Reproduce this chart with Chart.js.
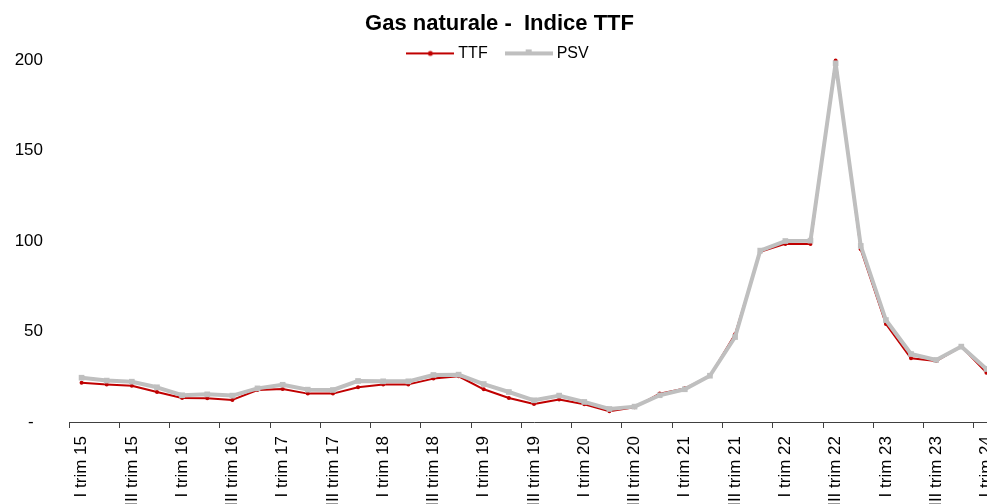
<!DOCTYPE html>
<html>
<head>
<meta charset="utf-8">
<script src="https://cdn.jsdelivr.net/npm/chart.js@4"></script>
<style>
    html, body { margin: 0; padding: 0; background: #fff; overflow: hidden; }
    #wrap { width: 987px; height: 504px; overflow: hidden; }
</style>
</head>
<body>
<div id="wrap">
    <canvas id="gasChart" width="1004" height="504"></canvas>
</div>
<script>
const categories = [
    "I trim 15", "II trim 15", "III trim 15", "IV trim 15",
    "I trim 16", "II trim 16", "III trim 16", "IV trim 16",
    "I trim 17", "II trim 17", "III trim 17", "IV trim 17",
    "I trim 18", "II trim 18", "III trim 18", "IV trim 18",
    "I trim 19", "II trim 19", "III trim 19", "IV trim 19",
    "I trim 20", "II trim 20", "III trim 20", "IV trim 20",
    "I trim 21", "II trim 21", "III trim 21", "IV trim 21",
    "I trim 22", "II trim 22", "III trim 22", "IV trim 22",
    "I trim 23", "II trim 23", "III trim 23", "IV trim 23",
    "I trim 24"
];

const ttf = [21.7, 20.8, 20.1, 16.6, 13.3, 13.1, 12.2, 17.7, 18.3, 15.7, 15.7, 19.2,
    20.8, 20.8, 24.0, 25.3, 18.1, 13.3, 10.0, 12.5, 9.8, 5.9, 8.1, 15.7,
    18.6, 25.5, 48.5, 94.2, 98.5, 98.5, 199.9, 95.5, 54.2, 35.2, 33.7, 41.7, 27.3];

const psv = [24.5, 22.9, 22.3, 19.2, 14.8, 15.3, 14.6, 18.6, 20.6, 17.9, 17.7, 22.7,
    22.5, 22.5, 26.0, 26.2, 21.0, 16.6, 12.0, 14.6, 11.1, 7.2, 8.5, 14.8,
    18.1, 25.6, 47.0, 94.8, 100.1, 100.3, 198.4, 97.4, 56.4, 37.6, 34.3, 41.7, 29.3];

const yTicks = [0, 50, 100, 150, 200];

const FONT = "'Liberation Sans', Arial, sans-serif";
const RED = "#C00000";
const GREY = "#BFBFBF";

// small line+marker pictures for the legend
function legendMark(color, lineW, shape) {
    const c = document.createElement("canvas");
    c.width = 48;
    c.height = 10;
    const g = c.getContext("2d");
    g.strokeStyle = color;
    g.lineWidth = lineW;
    g.beginPath();
    g.moveTo(0, 5);
    g.lineTo(48, 5);
    g.stroke();
    g.fillStyle = color;
    if (shape === "circle") {
        g.beginPath();
        g.arc(24, 5, 2.5, 0, Math.PI * 2);
        g.fill();
    } else {
        g.fillRect(21, 1, 6, 6);
    }
    return c;
}

const ttfMark = legendMark(RED, 2, "circle");
const psvMark = legendMark(GREY, 4, "rect");

const ctx = document.getElementById("gasChart").getContext("2d");

new Chart(ctx, {
    type: "line",
    data: {
        labels: categories,
        datasets: [
            {
                label: "TTF",
                data: ttf,
                borderColor: RED,
                backgroundColor: RED,
                borderWidth: 2,
                borderJoinStyle: "round",
                pointStyle: "circle",
                pointRadius: 2,
                pointBorderWidth: 0,
                tension: 0,
                clip: false,
                order: 2
            },
            {
                label: "PSV",
                data: psv,
                borderColor: GREY,
                backgroundColor: GREY,
                borderWidth: 4,
                borderJoinStyle: "round",
                pointStyle: "rect",
                pointRadius: 4,
                pointBorderWidth: 0,
                tension: 0,
                clip: false,
                order: 1
            }
        ]
    },
    options: {
        responsive: false,
        animation: false,
        layout: { padding: { left: 0, right: 5, top: 0, bottom: 0 } },
        plugins: {
            tooltip: { enabled: false },
            title: {
                display: true,
                text: "Gas naturale -  Indice TTF",
                color: "#000",
                font: { family: FONT, size: 22, weight: "bold" },
                padding: { top: 11, bottom: -13 }
            },
            legend: {
                display: true,
                position: "top",
                maxHeight: 36,
                labels: {
                    color: "#000",
                    font: { family: FONT, size: 16 },
                    usePointStyle: true,
                    pointStyleWidth: 40,
                    padding: 21,
                    generateLabels: function (chart) {
                        return [
                            { text: "TTF", pointStyle: ttfMark, datasetIndex: 0, hidden: !chart.isDatasetVisible(0), lineWidth: 0, fontColor: "#000" },
                            { text: "PSV", pointStyle: psvMark, datasetIndex: 1, hidden: !chart.isDatasetVisible(1), lineWidth: 0, fontColor: "#000" }
                        ];
                    }
                }
            }
        },
        scales: {
            x: {
                type: "category",
                offset: true,
                afterFit: function (scale) {
                    scale.height = 82;
                    scale.paddingLeft = 0;
                    scale.paddingRight = 0;
                },
                border: { display: true, color: "#404040", width: 1 },
                grid: {
                    offset: true,
                    drawOnChartArea: false,
                    drawTicks: true,
                    tickLength: 6,
                    color: function (c) { return c.index % 2 === 0 ? "#404040" : "rgba(0,0,0,0)"; }
                },
                ticks: {
                    autoSkip: false,
                    minRotation: 90,
                    maxRotation: 90,
                    padding: 8,
                    color: "#000",
                    font: { family: FONT, size: 17 },
                    callback: function (value, index) {
                        return index % 2 === 0 ? categories[index] : "";
                    }
                }
            },
            y: {
                min: 0,
                max: 200,
                afterFit: function (scale) { scale.width = 69; },
                afterBuildTicks: function (scale) {
                    scale.ticks = yTicks.map(v => ({ value: v }));
                },
                border: { display: false },
                grid: { display: false, drawTicks: false },
                ticks: {
                    padding: 26,
                    color: "#000",
                    font: { family: FONT, size: 17 },
                    callback: function (value) {
                        return value === 0 ? "-  " : value;
                    }
                }
            }
        }
    }
});
</script>
</body>
</html>
